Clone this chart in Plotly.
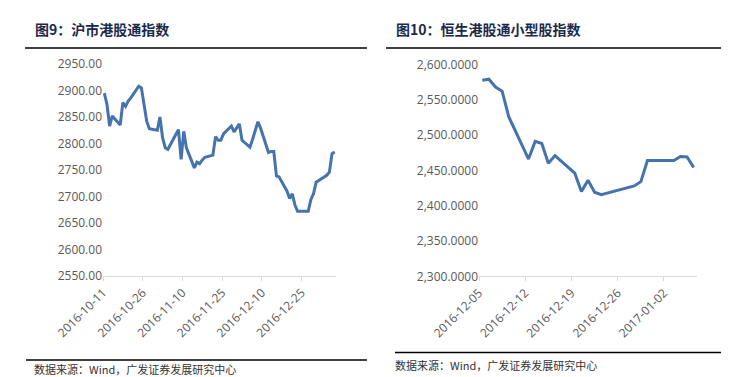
import plotly.graph_objects as go
import pandas as pd

# ---- Data: 沪市港股通指数 ----
sh_dates = [
    "2016-10-11", "2016-10-12", "2016-10-13", "2016-10-14", "2016-10-17", "2016-10-18",
    "2016-10-19", "2016-10-20", "2016-10-21", "2016-10-24", "2016-10-25", "2016-10-26",
    "2016-10-27", "2016-10-28", "2016-10-31", "2016-11-01", "2016-11-02", "2016-11-03",
    "2016-11-04", "2016-11-07", "2016-11-08", "2016-11-09", "2016-11-10", "2016-11-11",
    "2016-11-14", "2016-11-15", "2016-11-16", "2016-11-17", "2016-11-18", "2016-11-21",
    "2016-11-22", "2016-11-23", "2016-11-24", "2016-11-25", "2016-11-28", "2016-11-29",
    "2016-11-30", "2016-12-01", "2016-12-02", "2016-12-05", "2016-12-06", "2016-12-07",
    "2016-12-08", "2016-12-09", "2016-12-12", "2016-12-13", "2016-12-14", "2016-12-15",
    "2016-12-16", "2016-12-19", "2016-12-20", "2016-12-21", "2016-12-22", "2016-12-23",
    "2016-12-26", "2016-12-27", "2016-12-28", "2016-12-29", "2016-12-30", "2017-01-03",
    "2017-01-04", "2017-01-05", "2017-01-06",
]
sh_values = [
    2895, 2874, 2833, 2852, 2835, 2877,
    2870, 2880, 2886, 2908, 2905, 2874,
    2842, 2828, 2825, 2850, 2811, 2792,
    2789, 2817, 2826, 2770, 2823, 2792,
    2754, 2765, 2762, 2769, 2774, 2778,
    2813, 2806, 2806, 2818, 2833, 2822,
    2830, 2837, 2806, 2793, 2808, 2825,
    2841, 2829, 2783, 2785, 2785, 2739,
    2737, 2710, 2696, 2705, 2684, 2672,
    2672, 2672, 2694, 2705, 2727, 2740,
    2746, 2781, 2784,
]
sh_ticks = ["2016-10-11", "2016-10-26", "2016-11-10", "2016-11-25", "2016-12-10", "2016-12-25"]

# ---- Data: 恒生港股通小型股指数 ----
hs_dates = [
    "2016-12-05", "2016-12-06", "2016-12-07", "2016-12-08", "2016-12-09", "2016-12-12",
    "2016-12-13", "2016-12-14", "2016-12-15", "2016-12-16", "2016-12-19", "2016-12-20",
    "2016-12-21", "2016-12-22", "2016-12-23", "2016-12-28", "2016-12-29", "2016-12-30",
    "2017-01-03", "2017-01-04", "2017-01-05", "2017-01-06",
]
hs_values = [
    2577.5, 2579, 2568, 2562, 2526, 2466,
    2491, 2488, 2460, 2471, 2446, 2420,
    2436, 2419, 2415.5, 2428, 2434, 2464,
    2464, 2469.5, 2469, 2454,
]
hs_ticks = ["2016-12-05", "2016-12-12", "2016-12-19", "2016-12-26", "2017-01-02"]

titles = ["图9：沪市港股通指数", "图10：恒生港股通小型股指数"]
source = "数据来源：Wind，广发证券发展研究中心"

W, H = 729, 377
LINE = "#4573AE"
TICKC = "#595959"
AXC = "#D9D9D9"
TITLEC = "#1B2A4A"


def px(x):
    return x / W


def py(y):
    return 1 - y / H


half_day = pd.Timedelta(hours=12)
fig = go.Figure()
fig.add_trace(go.Scatter(
    x=pd.to_datetime(sh_dates) + half_day, y=sh_values, mode="lines",
    line=dict(color=LINE, width=3), xaxis="x", yaxis="y", showlegend=False,
))
fig.add_trace(go.Scatter(
    x=pd.to_datetime(hs_dates) + half_day, y=hs_values, mode="lines",
    line=dict(color=LINE, width=3), xaxis="x2", yaxis="y2", showlegend=False,
))

tickfont = dict(family="Open Sans", size=12, color=TICKC)
xcommon = dict(
    type="date", showgrid=False, zeroline=False, showline=True, linecolor=AXC, linewidth=1,
    ticks="outside", ticklen=4, tickcolor=AXC, tickangle=-45, tickfont=tickfont,
    tickformat="%Y-%m-%d", automargin=False,
)
ycommon = dict(showgrid=False, zeroline=False, showline=False, ticks="", tickfont=tickfont,
               automargin=False)

fig.update_layout(
    width=W, height=H, margin=dict(l=0, r=0, t=0, b=0, autoexpand=False),
    paper_bgcolor="white", plot_bgcolor="white",
    xaxis=dict(xcommon, domain=[px(95), px(328)], anchor="y",
               range=["2016-10-11", "2017-01-07"], tickvals=sh_ticks),
    yaxis=dict(ycommon, domain=[py(268), py(56)], anchor="x",
               range=[2550, 2950], dtick=50, tickformat=".2f"),
    xaxis2=dict(xcommon, domain=[px(471), px(689)], anchor="y2",
                range=["2016-12-05", "2017-01-07"], tickvals=hs_ticks),
    yaxis2=dict(ycommon, domain=[py(268.3), py(56.4)], anchor="x2",
                range=[2300, 2600], dtick=50, tickformat=",.4f"),
    shapes=[
        dict(type="line", xref="paper", yref="paper", x0=px(17), x1=px(359), y0=py(40), y1=py(40),
             line=dict(color="black", width=1.5)),
        dict(type="line", xref="paper", yref="paper", x0=px(378), x1=px(718), y0=py(40), y1=py(40),
             line=dict(color="black", width=1.5)),
        dict(type="line", xref="paper", yref="paper", x0=px(18), x1=px(359), y0=py(352), y1=py(352),
             line=dict(color="black", width=1.5)),
        dict(type="line", xref="paper", yref="paper", x0=px(387), x1=px(718), y0=py(344.5), y1=py(344.5),
             line=dict(color="black", width=1.5)),
    ],
    annotations=[
        dict(text="<b>" + titles[0] + "</b>", xref="paper", yref="paper", x=px(25), y=py(21),
             xanchor="left", yanchor="middle", showarrow=False,
             font=dict(family="Noto Sans CJK SC", size=14, color=TITLEC)),
        dict(text="<b>" + titles[1] + "</b>", xref="paper", yref="paper", x=px(386), y=py(21),
             xanchor="left", yanchor="middle", showarrow=False,
             font=dict(family="Noto Sans CJK SC", size=14, color=TITLEC)),
        dict(text=source, xref="paper", yref="paper", x=px(25), y=py(361),
             xanchor="left", yanchor="middle", showarrow=False, borderpad=0,
             font=dict(family="Noto Sans CJK SC", size=11, color="#333333")),
        dict(text=source, xref="paper", yref="paper", x=px(386), y=py(357),
             xanchor="left", yanchor="middle", showarrow=False, borderpad=0,
             font=dict(family="Noto Sans CJK SC", size=11, color="#333333")),
    ],
)

fig.write_html("out.html")
